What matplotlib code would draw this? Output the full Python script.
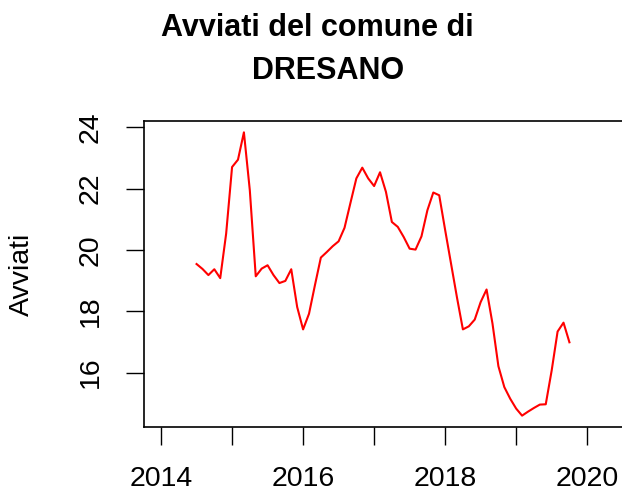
import matplotlib
matplotlib.use("Agg")
import matplotlib.pyplot as plt
import numpy as np

plt.rcParams['font.family'] = ['Liberation Sans', 'DejaVu Sans']

# monthly series, July 2014 -> October 2019
start_year = 2014.5
avviati = [19.54, 19.38, 19.18, 19.37, 19.08, 20.53, 22.70, 22.94, 23.83, 21.94,
           19.14, 19.39, 19.50, 19.18, 18.92, 18.99, 19.37, 18.14, 17.41, 17.92,
           18.85, 19.75, 19.93, 20.12, 20.28, 20.72, 21.53, 22.33, 22.68, 22.33,
           22.08, 22.53, 21.89, 20.91, 20.75, 20.42, 20.04, 20.01, 20.44, 21.29,
           21.87, 21.78, 20.65, 19.55, 18.45, 17.41, 17.51, 17.73, 18.30, 18.71,
           17.60, 16.21, 15.53, 15.15, 14.83, 14.60, 14.73, 14.85, 14.96, 14.97,
           16.07, 17.34, 17.63, 16.99]
x_ticks = [2014, 2015, 2016, 2017, 2018, 2019, 2020]
x_labels = ["2014", "", "2016", "", "2018", "", "2020"]
y_ticks = [16, 18, 20, 22, 24]

t = start_year + np.arange(len(avviati)) / 12.0

W, H = 622, 493
fig = plt.figure(figsize=(W / 100, H / 100), dpi=100)
ax = fig.add_axes([144 / W, (H - 427) / H, 500 / W, (427 - 121) / H])
ax.plot(t, avviati, color='#FF0000', lw=1.5)

ax.set_xlim(2013.76, 2020.80)
ax.set_ylim(14.23, 24.2)
ax.set_xticks(x_ticks)
ax.set_xticklabels(x_labels)
ax.set_yticks(y_ticks)
ax.set_yticklabels([str(v) for v in y_ticks], rotation=90, va='center')
ax.tick_params(direction='out', length=13, width=1, labelsize=20.5, colors='black')
ax.tick_params(axis='x', pad=15)
ax.tick_params(axis='y', pad=16)
for s in ax.spines.values():
    s.set_linewidth(1.2)

fig.text(317 / W, 1 - 28 / H, "Avviati del comune di", ha='center', va='center',
         fontsize=22, fontweight='bold')
fig.text(328 / W, 1 - 71 / H, "DRESANO", ha='center', va='center',
         fontsize=22, fontweight='bold')
fig.text(22 / W, 1 - 274 / H, "Avviati", rotation=90, ha='center', va='center',
         fontsize=20.5)

fig.savefig("out.png", dpi=100)
